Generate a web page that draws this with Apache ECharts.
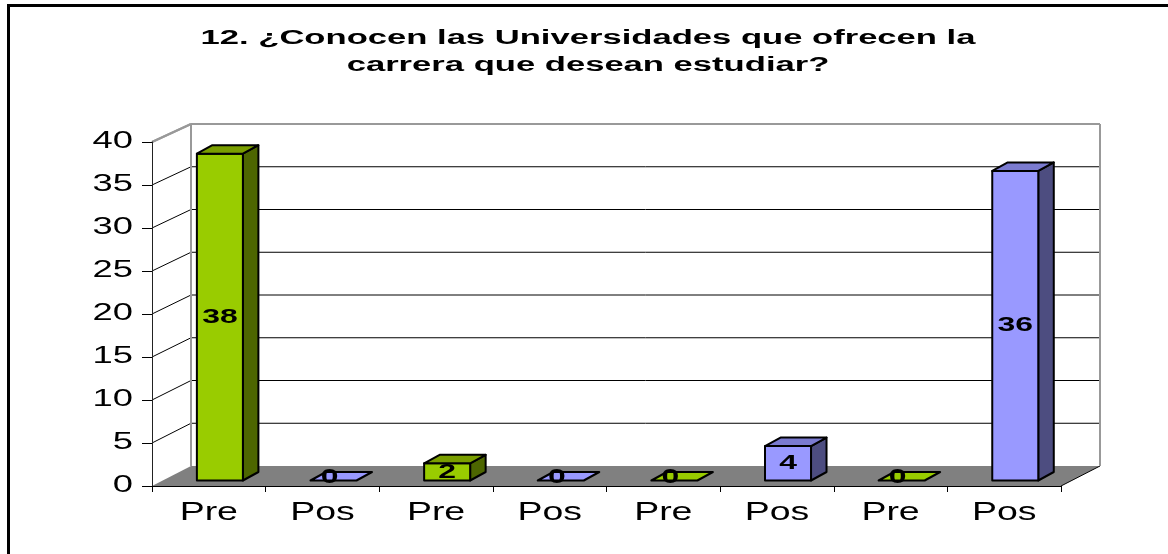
<!DOCTYPE html>
<html>
<head>
<meta charset="utf-8">
<script src="https://cdn.jsdelivr.net/npm/echarts@6/dist/echarts.min.js"></script>
<style>
  html, body { margin: 0; padding: 0; background: #fff; }
  #chart { width: 1168px; height: 554px; }
</style>
</head>
<body>
<div id="chart"></div>
<script>
// ---- data ----
const categories = ['Pre', 'Pos', 'Pre', 'Pos', 'Pre', 'Pos', 'Pre', 'Pos'];
const values = [38, 0, 2, 0, 0, 4, 0, 36];
const yTicks = [0, 5, 10, 15, 20, 25, 30, 35, 40];
const titleLines = ['12. ¿Conocen las Universidades que ofrecen la', 'carrera que desean estudiar?'];

// ---- styling ----
const palette = {
  Pre: { front: '#99CC00', top: '#7A9E00', side: '#4D6600' },
  Pos: { front: '#9999FF', top: '#7B7BD0', side: '#4D4D80' }
};
const FONT = '"Liberation Sans", Arial, Helvetica, sans-serif';

// depth of the plot box: front plane -> back wall
const WALL_DX = 39, WALL_DY = -20, WALL_TAPER = 2;
// bar placement inside a category band and the bar's own depth
const BAR_OFF = 0.395, BAR_W = 0.405, BAR_DX = 15.5, BAR_DY = -8.5, BAR_SHIFT_Y = -5.5;

function toBack(p, cs) {
  const y0 = cs.y + cs.height;
  const t = (y0 - p[1]) / cs.height;
  return [p[0] + WALL_DX, p[1] + WALL_DY + t * WALL_TAPER];
}

function line(p1, p2, color, width) {
  return {
    type: 'line',
    shape: { x1: p1[0], y1: p1[1], x2: p2[0], y2: p2[1] },
    style: { stroke: color, lineWidth: width || 1 }
  };
}

function poly(points, fill) {
  return {
    type: 'polygon',
    shape: { points: points },
    style: { fill: fill, stroke: '#000', lineWidth: 2, lineJoin: 'round' }
  };
}

// left wall diagonals, back-wall gridlines and value labels
function renderWall(params, api) {
  const cs = params.coordSys;
  const v = api.value(0);
  const fy = api.coord([0, v])[1];
  const fl = [cs.x, fy];
  const bl = toBack(fl, cs);
  const br = toBack([cs.x + cs.width, fy], cs);
  const isTop = v === yTicks[yTicks.length - 1];
  const col = isTop ? '#999999' : '#000000';
  const children = [];
  if (v > 0) {
    children.push(line(fl, bl, col, isTop ? 2 : 1));
    children.push(line(bl, br, col, isTop ? 2 : 1));
  }
  children.push({
    type: 'text',
    x: cs.x - 19, y: fy,
    scaleX: 1.58,
    style: {
      text: String(v), fill: '#000',
      font: '23px ' + FONT,
      align: 'right', verticalAlign: 'middle'
    }
  });
  return { type: 'group', children: children };
}

// floor and outer edges of the box
function renderFrame(params, api) {
  const cs = params.coordSys;
  const y0 = cs.y + cs.height;
  const fl = [cs.x, y0], fr = [cs.x + cs.width, y0];
  const tl = [cs.x, cs.y];
  const bfl = toBack(fl, cs), bfr = toBack(fr, cs);
  const btl = toBack(tl, cs), btr = toBack([cs.x + cs.width, cs.y], cs);
  return {
    type: 'group',
    children: [
      {
        type: 'polygon',
        shape: { points: [fl, fr, bfr, bfl] },
        style: { fill: '#808080', stroke: 'none' }
      },
      line(fr, bfr, '#000', 1),
      line(tl, btl, '#999999', 2),
      line(btl, bfl, '#999999', 2),
      line(btr, bfr, '#999999', 2)
    ]
  };
}

// 3D boxes with their value labels
function renderBar(params, api) {
  const i = api.value(0), v = api.value(1);
  const band = api.size([1, 0])[0];
  const base = api.coord([i, 0]);
  const topP = api.coord([i, v]);
  const x0 = base[0] - band / 2 + band * BAR_OFF;
  const w = band * BAR_W;
  const yb = base[1] + BAR_SHIFT_Y;
  const yt = topP[1] + BAR_SHIFT_Y;
  const c = palette[categories[i]];
  const children = [];
  if (v > 0) {
    children.push(poly([[x0 + w, yt], [x0 + w + BAR_DX, yt + BAR_DY], [x0 + w + BAR_DX, yb + BAR_DY], [x0 + w, yb]], c.side));
    children.push(poly([[x0, yt], [x0 + w, yt], [x0 + w, yb], [x0, yb]], c.front));
  }
  children.push(poly([[x0, yt], [x0 + w, yt], [x0 + w + BAR_DX, yt + BAR_DY], [x0 + BAR_DX, yt + BAR_DY]], v > 0 ? c.top : c.front));
  // flat (zero) boxes carry their label on the top face
  const lx = v > 0 ? x0 + w / 2 : x0 + w / 2 - 4;
  const ly = v > 0 ? (yt + yb) / 2 : yb - 3;
  children.push({
    type: 'text',
    x: lx, y: ly,
    scaleX: 1.52,
    style: {
      text: String(v), fill: '#000',
      font: 'bold 21px ' + FONT,
      align: 'center', verticalAlign: 'middle'
    }
  });
  return { type: 'group', children: children };
}

// category names under the floor
function renderCategory(params, api) {
  const i = api.value(0);
  const p = api.coord([i, 0]);
  return {
    type: 'text',
    x: p[0], y: p[1] + 27,
    scaleX: 1.44,
    style: {
      text: categories[i], fill: '#000',
      font: '26px ' + FONT,
      align: 'center', verticalAlign: 'middle'
    }
  };
}

const chart = echarts.init(document.getElementById('chart'), null, { renderer: 'canvas' });

chart.setOption({
  animation: false,
  backgroundColor: '#ffffff',
  graphic: [
    {
      type: 'rect',
      shape: { x: 8.5, y: 5.5, width: 1200, height: 600 },
      style: { fill: 'none', stroke: '#000', lineWidth: 3 },
      z: 10
    },
    {
      type: 'text',
      x: 588, y: 52,
      scaleX: 1.73,
      style: {
        text: titleLines.join('\n'),
        fill: '#000',
        font: 'bold 20px ' + FONT,
        lineHeight: 27,
        align: 'center', verticalAlign: 'middle'
      },
      z: 10
    }
  ],
  grid: { left: 152, right: 107, top: 142, bottom: 68 },
  xAxis: {
    type: 'category',
    data: categories,
    z: 5,
    axisLine: { lineStyle: { color: '#000', width: 1 } },
    axisTick: { show: true, length: 6, lineStyle: { color: '#000' } },
    axisLabel: { show: false },
    splitLine: { show: false }
  },
  yAxis: {
    type: 'value',
    min: 0, max: 40, interval: 5,
    z: 5,
    axisLine: { show: true, lineStyle: { color: '#222', width: 1 } },
    axisTick: { show: true, length: 10, lineStyle: { color: '#000' } },
    axisLabel: { show: false },
    splitLine: { show: false }
  },
  series: [
    {
      type: 'custom', name: 'wall', z: 2,
      renderItem: renderWall,
      data: yTicks.map(v => [v]),
      silent: true
    },
    {
      type: 'custom', name: 'frame', z: 3,
      renderItem: renderFrame,
      data: [[0]],
      silent: true
    },
    {
      type: 'custom', name: 'valores', z: 4,
      renderItem: renderBar,
      encode: { x: 0, y: 1 },
      data: values.map((v, i) => [i, v])
    },
    {
      type: 'custom', name: 'categorias', z: 4,
      renderItem: renderCategory,
      data: categories.map((c, i) => [i]),
      silent: true
    }
  ]
});
</script>
</body>
</html>
